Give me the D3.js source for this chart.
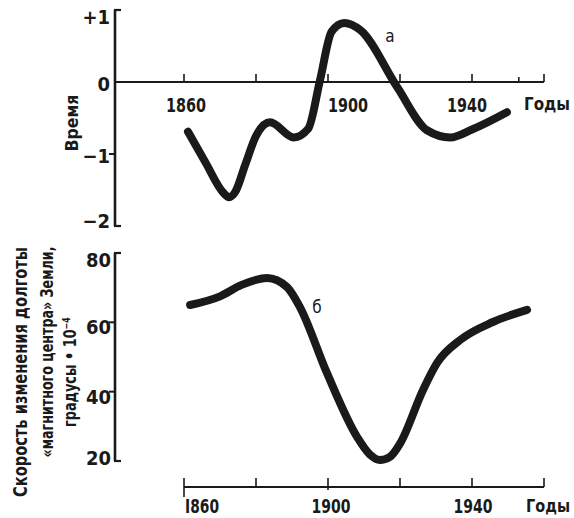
<!DOCTYPE html>
<html>
<head>
<meta charset="utf-8">
<script src="https://cdn.jsdelivr.net/npm/d3@7"></script>
<style>
  body { margin: 0; background: #fff; }
  svg { display: block; }
  text { font-family: "DejaVu Sans Condensed", "DejaVu Sans", sans-serif; fill: #1a1a1a; }
  .num { font-weight: bold; }
</style>
</head>
<body>
<div id="chart"></div>
<script>
// curve a: time (top panel)
var yearsA = [1861.1, 1866, 1870.8, 1872.5, 1874.2, 1877, 1880, 1883.9, 1890.5, 1894.5, 1897.8, 1901, 1904.5, 1909, 1919.2, 1927.5, 1934, 1940, 1949.7];
var valuesA = [-0.69, -1.12, -1.53, -1.60, -1.53, -1.15, -0.75, -0.56, -0.77, -0.65, 0.03, 0.70, 0.82, 0.72, -0.07, -0.67, -0.77, -0.66, -0.42];

// curve б: rate of change of longitude (bottom panel)
var yearsB = [1861.7, 1870, 1876, 1883.1, 1888.6, 1892.2, 1899.7, 1908.1, 1911.7, 1914.4, 1917.2, 1920, 1926.4, 1930.3, 1936.7, 1945.8, 1955.3];
var valuesB = [65.0, 67.5, 70.8, 72.8, 70.2, 64.4, 45.4, 26.9, 21.8, 20.3, 21.2, 25.0, 40.5, 48.3, 54.9, 60.1, 63.6];

var topYTicks = [1, 0, -1, -2];
var topYLabels = ["+1", "0", "\u22121", "\u22122"];
var botYTicks = [80, 60, 40, 20];
var xTicksTop = [1860, 1880, 1900, 1920, 1940, 1953, 1960];
var xTicksBot = [1860, 1880, 1900, 1920, 1940, 1960];
var xLabels = [1860, 1900, 1940];
var unitLabel = "Годы";

var W = 574, H = 518;
var svg = d3.select("#chart").append("svg").attr("width", W).attr("height", H);

var x = d3.scaleLinear().domain([1860, 1940]).range([184, 472]);
var yTop = d3.scaleLinear().domain([1, -2]).range([10, 226]);
var yBot = d3.scaleLinear().domain([80, 20]).range([253, 461]);

var axisX0 = 115;
var ink = "#1a1a1a";

function seg(g, x1, y1, x2, y2, w) {
    g.append("line").attr("x1", x1).attr("y1", y1).attr("x2", x2).attr("y2", y2)
        .attr("stroke", ink).attr("stroke-width", w || 2.2);
}

////////////////////// top panel //////////////////////
var gt = svg.append("g");
// vertical axis with caps
seg(gt, axisX0, yTop(1), axisX0, yTop(-2), 2.6);
seg(gt, axisX0 - 1, yTop(1), axisX0 + 6, yTop(1), 2.2);
seg(gt, axisX0 - 1, yTop(-2), axisX0 + 6, yTop(-2), 2.2);
seg(gt, axisX0 - 6, yTop(-1), axisX0, yTop(-1), 2);
// horizontal zero line
seg(gt, axisX0, yTop(0), x(1960), yTop(0), 2.2);
xTicksTop.forEach(function (t) {
    seg(gt, x(t), yTop(0) - (t == 1953 ? 5 : 8), x(t), yTop(0), 1.6);
});

gt.selectAll("text.yl")
    .data(topYTicks)
    .enter().append("text")
    .attr("class", "yl num")
    .attr("x", 110)
    .attr("y", function (d) { return yTop(d) + (d == 1 ? 14 : d == -2 ? 2 : 9); })
    .attr("text-anchor", "end")
    .style("font-size", "20px")
    .text(function (d, i) { return topYLabels[i]; });

gt.selectAll("text.xl")
    .data(xLabels)
    .enter().append("text")
    .attr("class", "xl num")
    .attr("x", function (d) { return x(d) + (d == 1900 ? 20 : d == 1940 ? -5 : 2); })
    .attr("y", 112)
    .attr("text-anchor", "middle")
    .attr("textLength", 40)
    .attr("lengthAdjust", "spacingAndGlyphs")
    .style("font-size", "20px")
    .text(function (d) { return d; });

gt.append("text").attr("class", "num").attr("x", 524).attr("y", 110)
    .attr("textLength", 46).attr("lengthAdjust", "spacingAndGlyphs")
    .style("font-size", "18px").text(unitLabel);

gt.append("text")
    .attr("class", "num")
    .attr("transform", "translate(78,123) rotate(-90)")
    .attr("text-anchor", "middle")
    .attr("textLength", 57).attr("lengthAdjust", "spacingAndGlyphs")
    .style("font-size", "18px")
    .text("Время");

var lineA = d3.line()
    .x(function (d) { return x(d[0]); })
    .y(function (d) { return yTop(d[1]); })
    .curve(d3.curveMonotoneX);

gt.append("path")
    .attr("d", lineA(d3.zip(yearsA, valuesA)))
    .attr("fill", "none")
    .attr("stroke", ink)
    .attr("stroke-width", 8)
    .attr("stroke-linecap", "round")
    .attr("stroke-linejoin", "round");

gt.append("text").attr("x", 390).attr("y", 42).attr("text-anchor", "middle")
    .style("font-size", "17px").text("а");

////////////////////// bottom panel //////////////////////
var gb = svg.append("g");
seg(gb, axisX0, yBot(80), axisX0, yBot(20), 2.6);
seg(gb, axisX0 - 1, yBot(80), axisX0 + 6, yBot(80), 2.2);
seg(gb, axisX0 - 1, yBot(20), axisX0 + 6, yBot(20), 2.2);
seg(gb, axisX0 - 6, yBot(60), axisX0, yBot(60), 2);
seg(gb, axisX0 - 6, yBot(40), axisX0, yBot(40), 2);

gb.selectAll("text.yl")
    .data(botYTicks)
    .enter().append("text")
    .attr("class", "yl num")
    .attr("x", 111)
    .attr("y", function (d) { return yBot(d) + (d == 80 ? 14 : d == 20 ? 4 : 12); })
    .attr("text-anchor", "end")
    .attr("textLength", 25).attr("lengthAdjust", "spacingAndGlyphs")
    .style("font-size", "20px")
    .text(function (d) { return d; });

var axisYb = 487;
seg(gb, x(1860), axisYb, x(1960), axisYb, 2.2);
xTicksBot.forEach(function (t) {
    var down = (t == 1860) ? 10 : (t == 1900 ? 3 : 0);
    seg(gb, x(t), axisYb - 9, x(t), axisYb + down, 1.6);
});

gb.selectAll("text.xl")
    .data(xLabels)
    .enter().append("text")
    .attr("class", "xl num")
    .attr("x", function (d) { return x(d) + (d == 1860 ? 18 : d == 1900 ? 3 : 1); })
    .attr("y", 513)
    .attr("text-anchor", "middle")
    .attr("textLength", function (d) { return d == 1860 ? 34 : 39; })
    .attr("lengthAdjust", "spacingAndGlyphs")
    .style("font-size", "20px")
    .text(function (d) { return d == 1860 ? "I860" : d; });

gb.append("text").attr("class", "num").attr("x", 526).attr("y", 512)
    .attr("textLength", 44).attr("lengthAdjust", "spacingAndGlyphs")
    .style("font-size", "18px").text(unitLabel);

var yLabLines = [
    { t: "Скорость изменения долготы", x: 27, cy: 372, len: 250, fs: 19 },
    { t: "«магнитного центра» Земли,", x: 53, cy: 352, len: 211, fs: 17 },
    { t: "градусы • 10⁻⁴", x: 76, cy: 372, len: 110, fs: 18 }
];
gb.selectAll("text.ylab")
    .data(yLabLines)
    .enter().append("text")
    .attr("class", "ylab")
    .attr("transform", function (d) { return "translate(" + d.x + "," + d.cy + ") rotate(-90)"; })
    .attr("text-anchor", "middle")
    .attr("textLength", function (d) { return d.len; })
    .attr("lengthAdjust", "spacingAndGlyphs")
    .style("font-size", function (d) { return d.fs + "px"; })
    .style("font-weight", "600")
    .text(function (d) { return d.t; });

var lineB = d3.line()
    .x(function (d) { return x(d[0]); })
    .y(function (d) { return yBot(d[1]); })
    .curve(d3.curveMonotoneX);

gb.append("path")
    .attr("d", lineB(d3.zip(yearsB, valuesB)))
    .attr("fill", "none")
    .attr("stroke", ink)
    .attr("stroke-width", 8)
    .attr("stroke-linecap", "round")
    .attr("stroke-linejoin", "round");

gb.append("text").attr("x", 317).attr("y", 313).attr("text-anchor", "middle")
    .style("font-size", "17px").text("б");
</script>
</body>
</html>
